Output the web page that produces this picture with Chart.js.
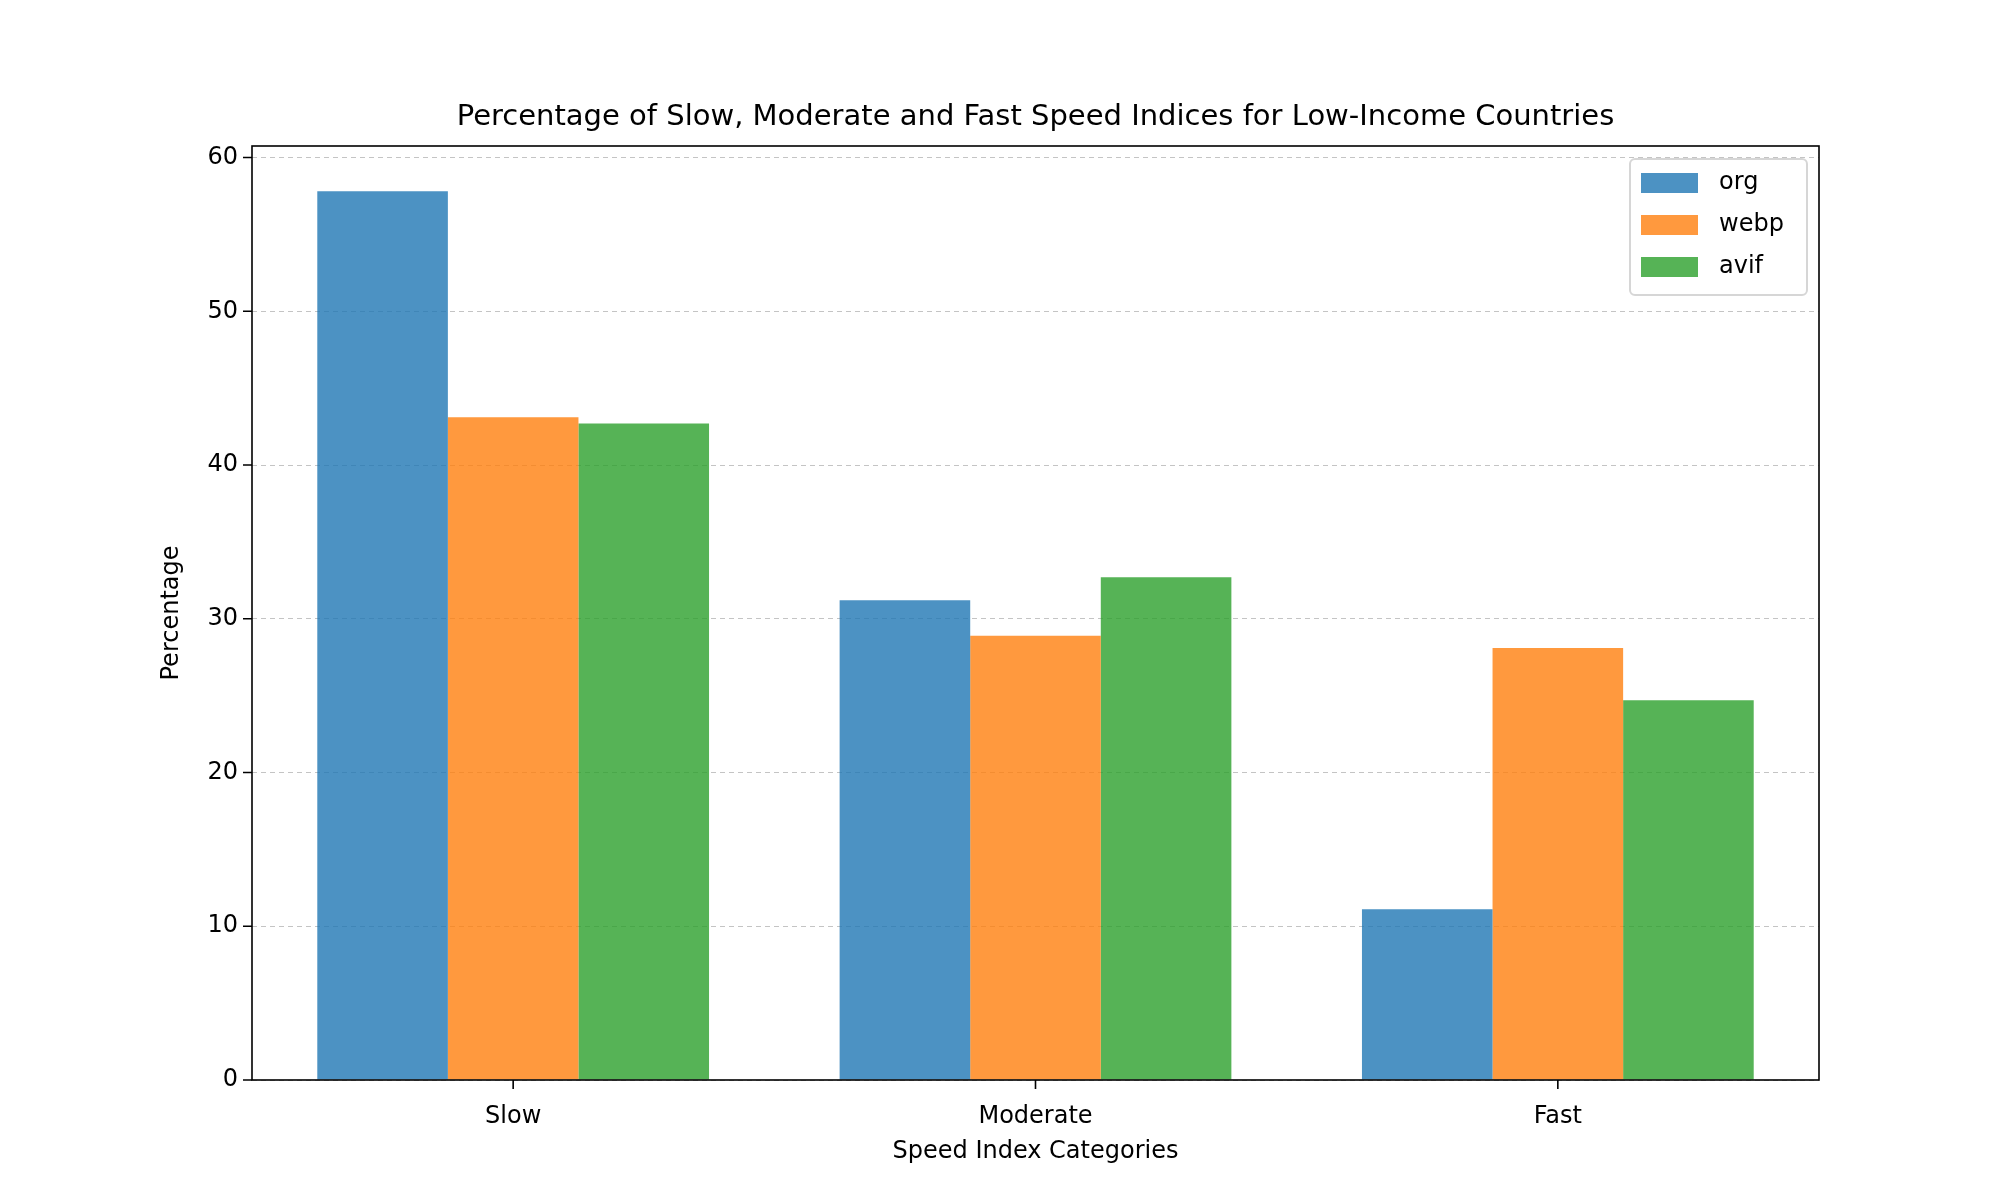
<!DOCTYPE html>
<html>
<head>
<script src="https://cdn.jsdelivr.net/npm/chart.js@4"></script>
<style>
  body { margin: 0; background: #fff; }
  #wrap { width: 2000px; height: 1200px; }
</style>
</head>
<body>
<div id="wrap"><canvas id="myChart" width="2000" height="1200"></canvas></div>
<script>
const categories = ["Slow", "Moderate", "Fast"];
const seriesNames = ["org", "webp", "avif"];
const orgValues = [57.8, 31.2, 11.1];
const webpValues = [43.1, 28.9, 28.1];
const avifValues = [42.7, 32.7, 24.7];
const yTicks = [0, 10, 20, 30, 40, 50, 60];

const colors = ["rgba(31,119,180,0.8)", "rgba(255,127,14,0.8)", "rgba(44,160,44,0.8)"];
const FONT = "'DejaVu Sans', sans-serif";

// frame, ticks, titles and legend drawn matplotlib-style
const decor = {
  id: "decor",
  afterDraw(chart) {
    const c = chart.ctx, a = chart.chartArea;
    const xs = chart.scales.x, ys = chart.scales.y;
    c.save();
    c.strokeStyle = "#000";
    c.lineWidth = 1.6;
    c.strokeRect(a.left, a.top, a.right - a.left, a.bottom - a.top);
    c.beginPath();
    yTicks.forEach(v => {
      const y = ys.getPixelForValue(v);
      c.moveTo(a.left, y); c.lineTo(a.left - 9, y);
    });
    categories.forEach((_, i) => {
      const x = xs.getPixelForValue(i);
      c.moveTo(x, a.bottom); c.lineTo(x, a.bottom + 9);
    });
    c.stroke();

    c.fillStyle = "#000";
    c.textAlign = "center";
    c.textBaseline = "middle";
    c.font = "29px " + FONT;
    c.fillText("Percentage of Slow, Moderate and Fast Speed Indices for Low-Income Countries", (a.left + a.right) / 2, 117);
    c.font = "24px " + FONT;
    c.fillText("Speed Index Categories", (a.left + a.right) / 2, 1152);
    c.translate(172, (a.top + a.bottom) / 2);
    c.rotate(-Math.PI / 2);
    c.fillText("Percentage", 0, 0);
    c.restore();

    // legend box
    c.save();
    const bx = 1630, by = 159, bw = 177, bh = 136;
    c.fillStyle = "rgba(255,255,255,0.8)";
    c.strokeStyle = "#d6d6d6";
    c.lineWidth = 2;
    c.beginPath();
    c.roundRect(bx, by, bw, bh, 5);
    c.fill(); c.stroke();
    c.font = "24px " + FONT;
    c.textBaseline = "middle";
    c.textAlign = "left";
    chart.data.datasets.forEach((ds, i) => {
      const cy = by + 24 + i * 42;
      c.fillStyle = ds.backgroundColor;
      c.fillRect(bx + 11, cy - 10, 57, 20);
      c.fillStyle = "#000";
      c.fillText(ds.label, bx + 89, cy);
    });
    c.restore();
  }
};

const ctx = document.getElementById("myChart").getContext("2d");
const myChart = new Chart(ctx, {
  type: "bar",
  data: {
    labels: categories,
    datasets: [orgValues, webpValues, avifValues].map((d, i) => ({
      label: seriesNames[i],
      data: d,
      backgroundColor: colors[i],
      borderWidth: 0,
      categoryPercentage: 0.75,
      barPercentage: 1.0,
    })),
  },
  options: {
    responsive: false,
    animation: false,
    devicePixelRatio: 1,
    layout: { padding: { left: 0, right: 181, top: 146, bottom: 0 } },
    plugins: { legend: { display: false }, tooltip: { enabled: false } },
    scales: {
      x: {
        offset: true,
        grid: { display: false },
        border: { display: false },
        ticks: { color: "#000", font: { family: FONT, size: 24 }, padding: 14 },
        afterFit(s) { s.height = 120; },
      },
      y: {
        min: 0,
        max: 60.75,
        afterBuildTicks(s) { s.ticks = yTicks.map(v => ({ value: v })); },
        grid: { color: "#c4c4c4", lineWidth: 1, tickLength: 0, drawTicks: false },
        border: { display: false, dash: [5, 4] },
        ticks: { color: "#000", font: { family: FONT, size: 24 }, padding: 14 },
        afterFit(s) { s.width = 252; },
      },
    },
  },
  plugins: [decor],
});
</script>
</body>
</html>
